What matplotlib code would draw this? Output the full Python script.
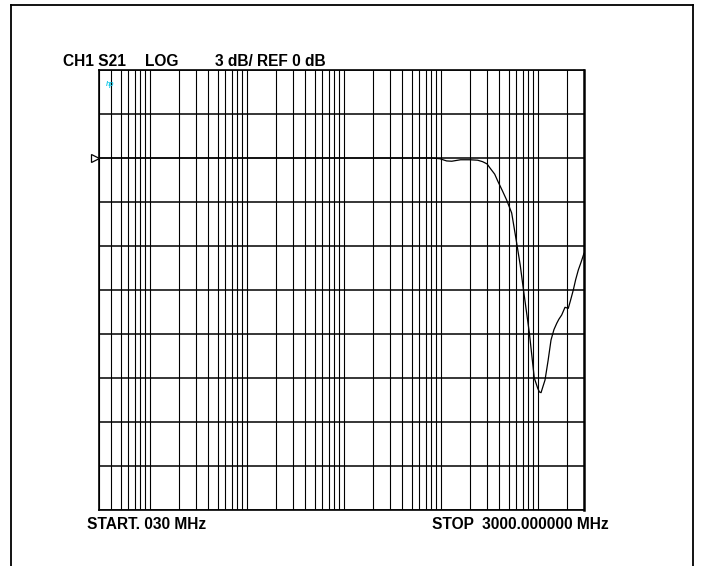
import matplotlib
matplotlib.use("Agg")
import matplotlib.pyplot as plt
import matplotlib.transforms as mtransforms
from matplotlib.lines import Line2D
from matplotlib.ticker import LogLocator, NullFormatter, MultipleLocator
import numpy as np

# ---- data ----
freq_mhz = [0.03, 0.1, 1, 10, 40, 80, 98, 115, 130, 160, 200, 240, 270, 300, 322,
            360, 389, 430, 478, 539, 607, 660, 710, 819, 922, 1000, 1040, 1082, 1130,
            1189, 1280, 1371, 1470, 1571, 1650, 1768, 1911, 2066, 2180, 2327, 2460,
            2620, 2800, 3000]
s21_db = [0.0, 0.0, 0.0, 0.0, 0.0, 0.0, -0.05, -0.2, -0.22, -0.12, -0.12, -0.15,
          -0.25, -0.4, -0.68, -1.1, -1.6, -2.2, -2.86, -3.75, -5.8, -7.3, -8.9,
          -11.9, -15.0, -15.7, -15.95, -16.0, -15.6, -15.14, -13.8, -12.41, -11.7,
          -11.27, -11.0, -10.7, -10.18, -10.25, -9.7, -9.0, -8.3, -7.64, -7.1, -6.5]

start_mhz = 0.03
stop_mhz = 3000.0
ref_db = 0.0
scale_db = 3.0
top_db = 6.0
bottom_db = -24.0

header_texts = ["CH1 S21", "LOG", "3 dB/ REF 0 dB"]
footer_texts = ["START. 030 MHz", "STOP  3000.000000 MHz"]

W, H = 702, 566
fig = plt.figure(figsize=(W / 100, H / 100), dpi=100)
fig.patch.set_facecolor("white")

ax = fig.add_axes([99 / W, 1 - 510 / H, 485 / W, 440 / H])
ax.set_xscale("log")
ax.set_xlim(start_mhz, stop_mhz)
ax.set_ylim(bottom_db, top_db)

ax.xaxis.set_major_locator(LogLocator(base=10, subs=np.arange(1, 10)))
ax.xaxis.set_minor_locator(LogLocator(base=10, subs=np.arange(1, 10)))
ax.xaxis.set_major_formatter(NullFormatter())
ax.xaxis.set_minor_formatter(NullFormatter())
ax.yaxis.set_major_locator(MultipleLocator(scale_db))
ax.yaxis.set_major_formatter(NullFormatter())
ax.tick_params(which="both", length=0)
ax.grid(True, axis="x", which="both", color="black", lw=0.8)
ax.grid(True, axis="y", which="major", color="black", lw=1.1)
ax.set_axisbelow(True)
for s in ax.spines.values():
    s.set_color("black")
    s.set_linewidth(1.2)
ax.spines["right"].set_linewidth(1.8)

ax.plot(freq_mhz, s21_db, color="black", lw=0.9, zorder=3)

# reference-level marker (open triangle at left edge)
off = mtransforms.offset_copy(ax.transData, fig=fig, x=-4, y=0, units="dots")
ax.plot([start_mhz], [ref_db], marker=">", ms=5.5, mfc="white", mec="black",
        mew=0.9, transform=off, clip_on=False, zorder=4)

# hp logo
fig.text(106 / W, 1 - 86 / H, "hp", color="#19c8e6", fontsize=5,
         fontstyle="italic", fontweight="bold", family="Liberation Sans")

fkw = dict(family="Liberation Sans", fontweight="bold", fontsize=11.2,
           va="baseline", ha="left", color="black")
hy = 1 - 66 / H
fig.text(63 / W, hy, header_texts[0], **fkw)
fig.text(145 / W, hy, header_texts[1], **fkw)
fig.text(215 / W, hy, header_texts[2], **fkw)
fy = 1 - 529 / H
fig.text(87 / W, fy, footer_texts[0], **fkw)
fig.text(432 / W, fy, footer_texts[1], **fkw)

# outer frame (open at bottom)
xl, xr, yt = 10.5 / W, 693 / W, 1 - 4.5 / H
fig.add_artist(Line2D([xl, xl], [0, yt], transform=fig.transFigure, color="black", lw=1.3))
fig.add_artist(Line2D([xl, xr], [yt, yt], transform=fig.transFigure, color="black", lw=1.3))
fig.add_artist(Line2D([xr, xr], [0, yt], transform=fig.transFigure, color="black", lw=1.3))

fig.savefig("out.png", dpi=100)
